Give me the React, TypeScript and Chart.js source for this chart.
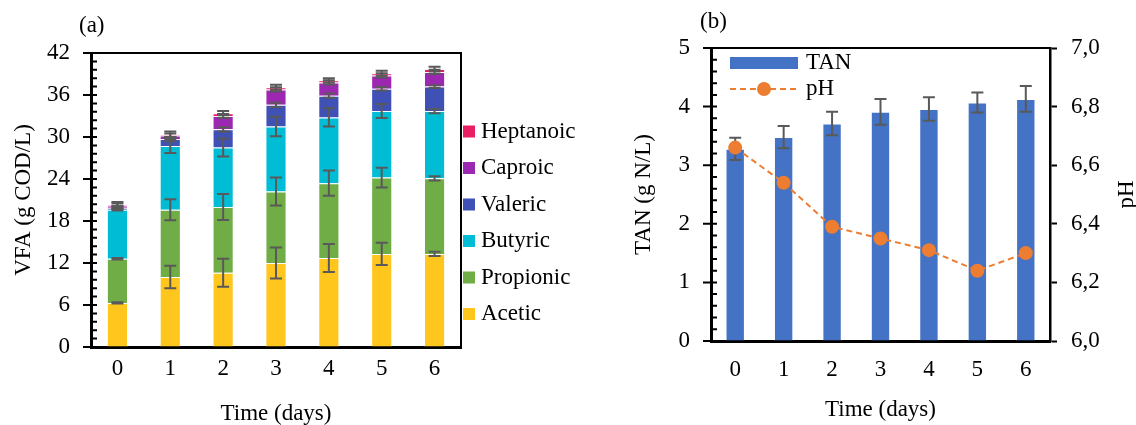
import React, { useEffect, useRef } from 'react';
import { Chart, registerables } from 'chart.js';
Chart.register(...registerables);

// ---------- data ----------
const days = ['0', '1', '2', '3', '4', '5', '6'];

const vfaNames = ['Acetic', 'Propionic', 'Butyric', 'Valeric', 'Caproic', 'Heptanoic'];
const acetic = [6.3, 10.0, 10.6, 12.0, 12.7, 13.3, 13.3];
const propionic = [6.3, 9.6, 9.4, 10.2, 10.7, 10.9, 10.8];
const butyric = [7.0, 9.1, 8.5, 9.3, 9.4, 9.5, 9.6];
const valeric = [0.3, 1.0, 2.6, 3.1, 3.1, 3.2, 3.5];
const caproic = [0.3, 0.5, 1.9, 2.2, 1.9, 1.9, 2.1];
const heptanoic = [0.2, 0.2, 0.4, 0.3, 0.3, 0.3, 0.4];

const aceticErr = [0.1, 1.6, 2.0, 2.2, 2.0, 1.6, 0.3];
const propionicErr = [0.1, 1.5, 1.85, 2.0, 1.8, 1.4, 0.3];
const butyricErr = [0.1, 1.0, 1.3, 1.4, 1.3, 1.0, 0.3];
const valericErr = [0.2, 0.3, 0.3, 0.3, 0.3, 0.25, 0.2];
const caproicErr = [0.3, 0.3, 0.3, 0.3, 0.3, 0.3, 0.3];
const heptanoicErr = [0.3, 0.4, 0.3, 0.35, 0.3, 0.35, 0.35];

const tan = [3.28, 3.48, 3.71, 3.91, 3.96, 4.07, 4.13];
const tanErr = [0.19, 0.19, 0.2, 0.22, 0.2, 0.17, 0.22];
const ph = [6.66, 6.54, 6.39, 6.35, 6.31, 6.24, 6.3];

const vfaTicks = [0, 6, 12, 18, 24, 30, 36, 42];
const vfaTickLabels = ['0', '6', '12', '18', '24', '30', '36', '42'];
const tanTicks = [0, 1, 2, 3, 4, 5];
const tanTickLabels = ['0', '1', '2', '3', '4', '5'];
const phTicks = [6.0, 6.2, 6.4, 6.6, 6.8, 7.0];
const phTickLabels = ['6,0', '6,2', '6,4', '6,6', '6,8', '7,0'];

// ---------- styles ----------
const vfaColors = ['#FFC61E', '#70AD47', '#00BCD4', '#3F51B5', '#9C27B0', '#E91E63'];
const tanColor = '#4472C4';
const phColor = '#ED7D31';
const errColor = '#595959';
const FONT = "'Liberation Serif', 'Times New Roman', serif";
const FS = 23;

const vfaValues = [acetic, propionic, butyric, valeric, caproic, heptanoic];
const vfaErrs = [aceticErr, propionicErr, butyricErr, valericErr, caproicErr, heptanoicErr];

function drawYTicks(chart: any, scaleId: string, majors: number[]) {
  const scale = chart.scales[scaleId];
  const ctx = chart.ctx;
  const x0 = chart.chartArea.left;
  ctx.save();
  ctx.strokeStyle = '#000';
  ctx.lineWidth = 2;
  ctx.beginPath();
  for (let i = 0; i < majors.length; i++) {
    const y = scale.getPixelForValue(majors[i]);
    ctx.moveTo(x0 - 8, y);
    ctx.lineTo(x0 + 6, y);
    if (i < majors.length - 1) {
      const step = (majors[i + 1] - majors[i]) / 5;
      for (let k = 1; k < 5; k++) {
        const ym = scale.getPixelForValue(majors[i] + k * step);
        ctx.moveTo(x0, ym);
        ctx.lineTo(x0 + 6, ym);
      }
    }
  }
  ctx.stroke();
  ctx.restore();
}

function drawErr(ctx: any, x: number, yLo: number, yHi: number) {
  ctx.beginPath();
  ctx.moveTo(x, yLo);
  ctx.lineTo(x, yHi);
  ctx.moveTo(x - 6, yLo);
  ctx.lineTo(x + 6, yLo);
  ctx.moveTo(x - 6, yHi);
  ctx.lineTo(x + 6, yHi);
  ctx.stroke();
}

const baseTickFont = { family: FONT, size: FS };

function VfaChart() {
  const ref = useRef<HTMLCanvasElement>(null);
  useEffect(() => {
    const plugin = {
      id: 'vfaExtras',
      afterDatasetsDraw(chart: any) {
        const ctx = chart.ctx;
        const y = chart.scales.y;
        ctx.save();
        ctx.strokeStyle = errColor;
        ctx.lineWidth = 2;
        for (let j = 0; j < days.length; j++) {
          let cum = 0;
          for (let i = 0; i < vfaValues.length; i++) {
            cum += vfaValues[i][j];
            const meta = chart.getDatasetMeta(i);
            const x = meta.data[j].x;
            drawErr(ctx, x, y.getPixelForValue(cum - vfaErrs[i][j]), y.getPixelForValue(cum + vfaErrs[i][j]));
          }
        }
        ctx.restore();
      },
      afterDraw(chart: any) {
        const ctx = chart.ctx;
        const a = chart.chartArea;
        ctx.save();
        ctx.strokeStyle = '#000';
        ctx.lineWidth = 2;
        ctx.beginPath();
        ctx.moveTo(a.left, a.top);
        ctx.lineTo(a.right, a.top);
        ctx.lineTo(a.right, a.bottom);
        ctx.stroke();
        ctx.restore();
        drawYTicks(chart, 'y', vfaTicks);
        // legend
        ctx.save();
        ctx.font = `${FS}px ${FONT}`;
        ctx.textBaseline = 'middle';
        ctx.textAlign = 'left';
        ctx.fillStyle = '#000';
        const n = chart.data.datasets.length;
        for (let k = 0; k < n; k++) {
          const ds = chart.data.datasets[n - 1 - k];
          const cy = 131.5 + k * 36.5;
          ctx.fillStyle = ds.backgroundColor;
          ctx.fillRect(463, cy - 6, 12, 12);
          ctx.fillStyle = '#000';
          ctx.fillText(ds.label, 481, cy);
        }
        // panel label
        ctx.fillText('(a)', 79, 26);
        ctx.restore();
      },
    };
    const chart = new Chart(ref.current!, {
      type: 'bar',
      data: {
        labels: days,
        datasets: vfaNames.map((name, i) => ({
          label: name,
          data: vfaValues[i],
          backgroundColor: vfaColors[i],
          borderColor: 'rgba(255,255,255,0.45)',
          borderWidth: 1,
          barPercentage: 0.4,
          categoryPercentage: 1,
          stack: 's',
        })),
      },
      options: {
        responsive: false,
        animation: false,
        layout: { padding: { left: 0, right: 139, top: 53, bottom: 0 } },
        plugins: { legend: { display: false }, tooltip: { enabled: false } },
        scales: {
          x: {
            stacked: true,
            offset: true,
            grid: { display: true, drawOnChartArea: false, drawTicks: false },
            border: { display: true, color: '#000', width: 3 },
            ticks: { padding: 8, color: '#000', font: baseTickFont },
            title: { display: true, text: 'Time (days)', color: '#000', font: baseTickFont, padding: { top: 0, bottom: -3 } },
            afterFit: (s: any) => { s.height = 78; },
          },
          y: {
            stacked: true,
            min: 0,
            max: 42,
            afterBuildTicks: (s: any) => { s.ticks = vfaTicks.map((v) => ({ value: v })); },
            grid: { display: true, drawOnChartArea: false, drawTicks: false },
            border: { display: true, color: '#000', width: 3 },
            ticks: { padding: 21, color: '#000', font: baseTickFont, callback: (_v: any, i: number) => vfaTickLabels[i] },
            title: { display: true, text: 'VFA (g COD/L)', color: '#000', font: baseTickFont, padding: { top: 10, bottom: 0 } },
            afterFit: (s: any) => { s.width = 91; },
          },
        },
      } as any,
      plugins: [plugin],
    });
    return () => chart.destroy();
  }, []);
  return <canvas ref={ref} width={600} height={425} style={{ position: 'absolute', left: 0, top: 0, width: 600, height: 425 }} />;
}

function TanChart() {
  const ref = useRef<HTMLCanvasElement>(null);
  useEffect(() => {
    const plugin = {
      id: 'tanExtras',
      afterDatasetDraw(chart: any, args: any) {
        if (args.meta.type !== 'bar') return;
        const ctx = chart.ctx;
        const y = chart.scales.y;
        ctx.save();
        ctx.strokeStyle = errColor;
        ctx.lineWidth = 2;
        for (let j = 0; j < tan.length; j++) {
          const x = args.meta.data[j].x;
          drawErr(ctx, x, y.getPixelForValue(tan[j] - tanErr[j]), y.getPixelForValue(tan[j] + tanErr[j]));
        }
        ctx.restore();
      },
      afterDraw(chart: any) {
        const ctx = chart.ctx;
        const a = chart.chartArea;
        ctx.save();
        ctx.strokeStyle = '#000';
        ctx.lineWidth = 2;
        ctx.beginPath();
        ctx.moveTo(a.left, a.top);
        ctx.lineTo(a.right, a.top);
        ctx.stroke();
        ctx.restore();
        drawYTicks(chart, 'y', tanTicks);
        ctx.save();
        ctx.font = `${FS}px ${FONT}`;
        ctx.textBaseline = 'middle';
        ctx.textAlign = 'left';
        const barDs = chart.data.datasets.find((d: any) => d.type === 'bar');
        const lineDs = chart.data.datasets.find((d: any) => d.type === 'line');
        // TAN legend
        ctx.fillStyle = barDs.backgroundColor;
        ctx.fillRect(130, 57, 68, 12);
        ctx.fillStyle = '#000';
        ctx.fillText(barDs.label, 206, 63);
        // pH legend
        ctx.strokeStyle = lineDs.borderColor;
        ctx.lineWidth = 2;
        ctx.setLineDash([6, 4]);
        ctx.beginPath();
        ctx.moveTo(130, 89);
        ctx.lineTo(199, 89);
        ctx.stroke();
        ctx.setLineDash([]);
        ctx.fillStyle = lineDs.borderColor;
        ctx.beginPath();
        ctx.arc(164, 89, 7, 0, Math.PI * 2);
        ctx.fill();
        ctx.fillStyle = '#000';
        ctx.fillText(lineDs.label, 206, 89);
        // panel label
        ctx.fillText('(b)', 100, 22);
        // right axis title
        ctx.translate(527, (a.top + a.bottom) / 2);
        ctx.rotate(-Math.PI / 2);
        ctx.textAlign = 'center';
        ctx.fillText('pH', 0, 0);
        ctx.restore();
      },
    };
    const chart = new Chart(ref.current!, {
      type: 'bar',
      data: {
        labels: days,
        datasets: [
          {
            type: 'line',
            label: 'pH',
            data: ph,
            yAxisID: 'y1',
            borderColor: phColor,
            backgroundColor: phColor,
            borderDash: [6, 4],
            borderWidth: 2,
            pointRadius: 7,
            pointBackgroundColor: phColor,
            pointBorderWidth: 0,
            tension: 0,
            order: 0,
          },
          {
            type: 'bar',
            label: 'TAN',
            data: tan,
            yAxisID: 'y',
            backgroundColor: tanColor,
            borderColor: 'rgba(255,255,255,0.45)',
            borderWidth: 1,
            barPercentage: 0.4,
            categoryPercentage: 1,
            order: 1,
          },
        ],
      },
      options: {
        responsive: false,
        animation: false,
        layout: { padding: { left: 0, right: 0, top: 48, bottom: 0 } },
        plugins: { legend: { display: false }, tooltip: { enabled: false } },
        scales: {
          x: {
            offset: true,
            grid: { display: true, drawOnChartArea: false, drawTicks: false },
            border: { display: true, color: '#000', width: 3 },
            ticks: { padding: 14.7, color: '#000', font: baseTickFont },
            title: { display: true, text: 'Time (days)', color: '#000', font: baseTickFont, padding: { top: 0, bottom: 1 } },
            afterFit: (s: any) => { s.height = 84; },
          },
          y: {
            position: 'left',
            min: 0,
            max: 5,
            afterBuildTicks: (s: any) => { s.ticks = tanTicks.map((v) => ({ value: v })); },
            grid: { display: true, drawOnChartArea: false, drawTicks: false },
            border: { display: true, color: '#000', width: 3 },
            ticks: { padding: 21, color: '#000', font: baseTickFont, callback: (_v: any, i: number) => tanTickLabels[i] },
            title: { display: true, text: 'TAN (g N/L)', color: '#000', font: baseTickFont, padding: { top: 30, bottom: 0 } },
            afterFit: (s: any) => { s.width = 111; },
          },
          y1: {
            position: 'right',
            min: 6,
            max: 7,
            afterBuildTicks: (s: any) => { s.ticks = phTicks.map((v) => ({ value: v })); },
            grid: { display: true, drawOnChartArea: false, drawTicks: true, tickLength: 7, tickWidth: 2, tickColor: '#000' },
            border: { display: true, color: '#000', width: 2.5 },
            ticks: { padding: 14, color: '#000', font: baseTickFont, callback: (_v: any, i: number) => phTickLabels[i] },
            afterFit: (s: any) => { s.width = 86; },
          },
        },
      } as any,
      plugins: [plugin],
    });
    return () => chart.destroy();
  }, []);
  return <canvas ref={ref} width={536} height={425} style={{ position: 'absolute', left: 600, top: 0, width: 536, height: 425 }} />;
}

export default function App() {
  return (
    <div style={{ position: 'absolute', left: 0, top: 0, width: 1136, height: 425, background: '#fff', overflow: 'hidden' }}>
      <VfaChart />
      <TanChart />
    </div>
  );
}
